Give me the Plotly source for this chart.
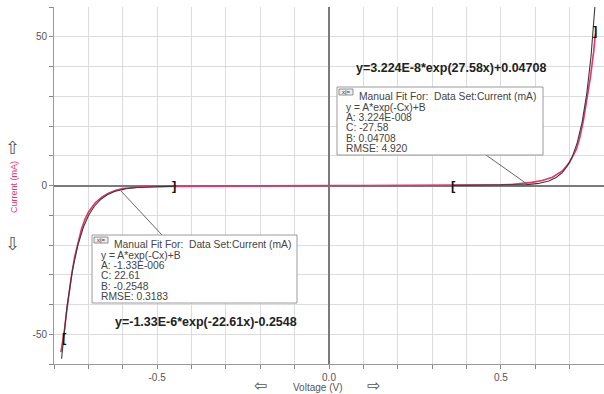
import numpy as np
import plotly.graph_objects as go

# Measured diode current (mA) versus voltage (V)
voltage = [-0.780, -0.775, -0.770, -0.765, -0.760, -0.750, -0.740, -0.730, -0.720,
           -0.710, -0.700, -0.680, -0.660, -0.640, -0.620, -0.600, -0.570, -0.540,
           -0.500, -0.450, -0.400, -0.300, -0.200, -0.100, 0.000, 0.100, 0.200,
           0.300, 0.400, 0.450, 0.500, 0.530, 0.560, 0.590, 0.620, 0.650, 0.680,
           0.700, 0.720, 0.730, 0.740, 0.750, 0.760, 0.770, 0.775]
current = [-56.0, -53.0, -49.0, -44.0, -39.5, -31.0, -24.0, -18.8, -14.6,
           -11.4, -9.0, -5.8, -3.8, -2.5, -1.6, -1.0, -0.6, -0.4,
           -0.3, -0.25, -0.2, -0.1, -0.05, 0.0, 0.0, 0.0, 0.0,
           0.0, 0.05, 0.1, 0.2, 0.35, 0.65, 1.05, 1.7, 2.8, 5.0,
           7.8, 12.3, 16.3, 21.8, 28.5, 36.0, 45.0, 51.0]

# Manual fit parameters, y = A*exp(-C*x) + B
fit_neg = dict(A=-1.33e-6, C=22.61, B=-0.2548, rmse=0.3183, lo=-0.778, hi=-0.452)
fit_pos = dict(A=3.224e-8, C=-27.58, B=0.04708, rmse=4.920, lo=0.362, hi=0.777)

x_ticks = [round(-0.8 + 0.1 * i, 1) for i in range(17)]
x_labels = {-0.5: "-0.5", 0.0: "0.0", 0.5: "0.5"}
y_ticks = list(range(-60, 61, 10))
y_labels = {-50: "-50", 0: "0", 50: "50"}

W, H = 604, 394
L, R, T, B = 54, 0, 7, 30
PW, PH = W - L - R, H - T - B

def px(x):
    return (x - L) / PW

def py(y):
    return (H - B - y) / PH

RED = "#e8336a"
FIT = "#3a3a3a"
GRID = "#dcdcdc"
TXT = "#444444"

fig = go.Figure()

fig.add_trace(go.Scatter(x=voltage, y=current, mode="lines",
                         line=dict(color=RED, width=1.6), hoverinfo="skip"))

for f in (fit_neg, fit_pos):
    xs = np.linspace(f["lo"], f["hi"], 300)
    ys = f["A"] * np.exp(-f["C"] * xs) + f["B"]
    fig.add_trace(go.Scatter(x=xs, y=ys, mode="lines",
                             line=dict(color=FIT, width=1.1), hoverinfo="skip"))

fig.update_layout(
    width=W, height=H, showlegend=False,
    margin=dict(l=L, r=R, t=T, b=B),
    paper_bgcolor="white", plot_bgcolor="white",
    font=dict(family="Liberation Sans, Arial, sans-serif", color=TXT, size=10),
    xaxis=dict(range=[-0.8, 0.8], tickmode="array", tickvals=x_ticks,
               ticktext=[x_labels.get(v, "") for v in x_ticks],
               showgrid=True, gridcolor=GRID, gridwidth=1,
               zeroline=True, zerolinecolor="#7a7a7a", zerolinewidth=2,
               ticks="outside", ticklen=4, tickcolor="#888", showline=True,
               linecolor="#9a9a9a", linewidth=1,
               tickfont=dict(size=10, color="#555")),
    yaxis=dict(range=[-60, 60], tickmode="array", tickvals=y_ticks,
               ticktext=[y_labels.get(v, "") for v in y_ticks],
               showgrid=True, gridcolor=GRID, gridwidth=1,
               zeroline=True, zerolinecolor="#7a7a7a", zerolinewidth=2,
               ticks="outside", ticklen=4, tickcolor="#888", showline=True,
               linecolor="#9a9a9a", linewidth=1,
               tickfont=dict(size=10, color="#555")),
)


def label(xp, yp, text, size, color, xanchor="center", angle=0):
    fig.add_annotation(x=px(xp), y=py(yp), xref="paper", yref="paper",
                       xanchor=xanchor, yanchor="middle", text=text,
                       showarrow=False, textangle=angle,
                       font=dict(size=size, color=color))


# Axis titles with direction arrows
label(317, 387, "Voltage (V)", 10, "#555")
label(260, 385, "⇦", 16, "#555")
label(373, 385, "⇨", 16, "#555")
label(14, 187, "Current (mA)", 9, RED, angle=-90)
label(12, 148, "⇧", 18, "#555")
label(12, 244, "⇩", 18, "#555")

# Fit range brackets
for xb, yb, ch in [(fit_neg["lo"] + 0.008, -51, "["), (fit_neg["hi"], 0, "]"),
                   (fit_pos["lo"], 0, "["), (fit_pos["hi"] - 0.004, 52, "]")]:
    fig.add_annotation(x=xb, y=yb, xref="x", yref="y", text="<b>%s</b>" % ch,
                       xanchor="center", yanchor="middle",
                       showarrow=False, font=dict(size=13, color="#111"))

# Fitted equations
label(451, 68, "<b>y=3.224E-8*exp(27.58x)+0.04708</b>", 12.5, "#222")
label(206, 322, "<b>y=-1.33E-6*exp(-22.61x)-0.2548</b>", 12.5, "#222")


def fit_box(x0, y0, x1, y1, lines, anchor, tip):
    # leader line from box to curve
    fig.add_shape(type="line", xref="paper", yref="paper",
                  x0=px(anchor[0]), y0=py(anchor[1]), x1=px(tip[0]), y1=py(tip[1]),
                  line=dict(color="#666", width=1))
    fig.add_shape(type="rect", xref="paper", yref="paper",
                  x0=px(x0), y0=py(y0), x1=px(x1), y1=py(y1),
                  fillcolor="white", line=dict(color="#9a9a9a", width=1))
    # small header icon
    fig.add_shape(type="rect", xref="paper", yref="paper",
                  x0=px(x0 + 2), y0=py(y0 + 2), x1=px(x0 + 16), y1=py(y0 + 8),
                  fillcolor="#eeeeee", line=dict(color="#777", width=0.8))
    label(x0 + 9, y0 + 5, "x|=", 6, "#333")
    label(x0 + 20, y0 + 9, lines[0], 10.3, TXT, xanchor="left")
    for i, s in enumerate(lines[1:]):
        label(x0 + 7, y0 + 20 + i * 10.4, s, 10.3, TXT, xanchor="left")


header = "Manual Fit For:  Data Set:Current (mA)"
fit_box(337, 87, 543, 155,
        [header, "y = A*exp(-Cx)+B", "A: 3.224E-008", "C: -27.58",
         "B: 0.04708", "RMSE: 4.920"],
        anchor=(486, 155), tip=(527, 184))
fit_box(92, 235, 297, 303,
        [header, "y = A*exp(-Cx)+B", "A: -1.33E-006", "C: 22.61",
         "B: -0.2548", "RMSE: 0.3183"],
        anchor=(162, 235), tip=(121, 191))

fig.write_html("out.html")
